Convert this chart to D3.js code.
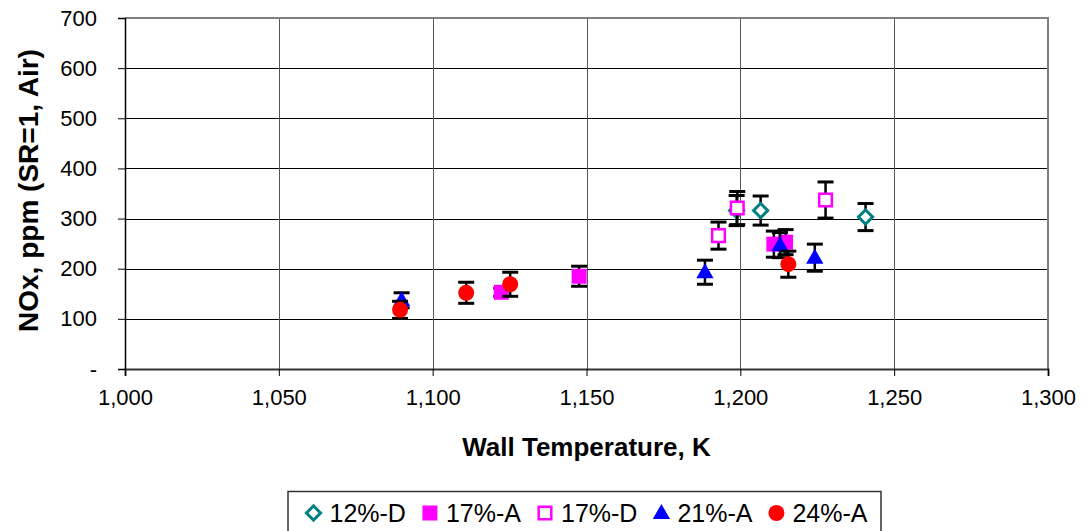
<!DOCTYPE html>
<meta charset="utf-8">
<script src="https://d3js.org/d3.v7.min.js"></script>
<style>
  body { margin: 0; background: #fff; font-family: Arial, "Liberation Sans", sans-serif; }
  .tick text { font-size: 22px; fill: #000; }
  .axisTitle { font-weight: bold; font-size: 26px; fill: #000; }
  .yTitle { font-size: 28px; }
  .legendText { font-size: 25px; fill: #000; }
</style>
<body></body>
<script>

// series: wall temperature (K), NOx (ppm), error (+/- ppm)
var seriesNames = ["12%-D", "17%-A", "17%-D", "21%-A", "24%-A"];
var temp12D = [1198.8, 1206.6, 1240.7];
var nox12D  = [316, 316, 303];
var err12D  = [30, 29, 27];
var temp17A = [1122.3, 1147.6, 1210.9, 1214.7];
var nox17A  = [153, 185, 249, 253];
var err17A  = [8, 20, 26, 25];
var temp17D = [1192.9, 1199.0, 1227.7];
var nox17D  = [266, 321, 337];
var err17D  = [27, 33, 36];
var temp21A = [1089.9, 1188.5, 1212.9, 1224.2];
var nox21A  = [137, 193, 247, 222];
var err21A  = [15, 24, 25, 27];
var temp24A = [1089.4, 1110.9, 1125.2, 1215.6];
var nox24A  = [118, 152, 169, 209];
var err24A  = [17, 21, 24, 26];
var xTicks = [1000, 1050, 1100, 1150, 1200, 1250, 1300];
var yTicks = [0, 100, 200, 300, 400, 500, 600, 700];

var series = [
  {name: seriesNames[0], t: temp12D, v: nox12D, e: err12D, kind: "diamond",  color: "#008080"},
  {name: seriesNames[1], t: temp17A, v: nox17A, e: err17A, kind: "square",   color: "#ff00ff"},
  {name: seriesNames[2], t: temp17D, v: nox17D, e: err17D, kind: "osquare",  color: "#ff00ff"},
  {name: seriesNames[3], t: temp21A, v: nox21A, e: err21A, kind: "triangle", color: "#0000ff"},
  {name: seriesNames[4], t: temp24A, v: nox24A, e: err24A, kind: "circle",   color: "#ff0000"}
];

var margin = {top: 18, right: 35, bottom: 162, left: 125};
var W = 1083, H = 531;
var width = W - margin.left - margin.right,
    height = H - margin.top - margin.bottom;

var svg = d3.select("body").append("svg")
    .attr("width", W)
    .attr("height", H);
var g = svg.append("g")
    .attr("transform", "translate(" + margin.left + "," + margin.top + ")");

var x = d3.scaleLinear().domain([1000, 1300]).range([0, width]);
var y = d3.scaleLinear().domain([0, 700]).range([height, 0]);

// grid
g.append("g").selectAll("line")
  .data(yTicks.slice(1, -1))
  .enter().append("line")
    .attr("x1", 0).attr("x2", width)
    .attr("y1", function(d) { return Math.round(y(d)) + 0.5; })
    .attr("y2", function(d) { return Math.round(y(d)) + 0.5; })
    .attr("stroke", "#000").attr("stroke-width", 1);
g.append("g").selectAll("line")
  .data(xTicks.slice(1, -1))
  .enter().append("line")
    .attr("y1", 0).attr("y2", height)
    .attr("x1", function(d) { return Math.round(x(d)) + 0.5; })
    .attr("x2", function(d) { return Math.round(x(d)) + 0.5; })
    .attr("stroke", "#555").attr("stroke-width", 1);

// plot border (top / right)
g.append("path")
  .attr("d", "M0,0H" + width + "V" + height)
  .attr("fill", "none").attr("stroke", "#808080").attr("stroke-width", 2);

// axes
var fmt = d3.format(",");
var xAxis = g.append("g")
    .attr("transform", "translate(0," + height + ")")
    .call(d3.axisBottom(x).tickValues(xTicks).tickFormat(fmt).tickSize(7).tickPadding(13));
var yAxis = g.append("g")
    .call(d3.axisLeft(y).tickValues(yTicks)
      .tickFormat(function(d) { return d === 0 ? "-" : d; })
      .tickSize(7).tickPadding(21));
xAxis.select(".domain").attr("stroke", "#333").attr("stroke-width", 2);
yAxis.select(".domain").attr("stroke", "#000").attr("stroke-width", 1.5);
xAxis.selectAll(".tick line").attr("stroke", "#000");
yAxis.selectAll(".tick line").attr("stroke", "#000");
xAxis.attr("font-family", null).attr("font-size", null);
yAxis.attr("font-family", null).attr("font-size", null);

// titles
svg.append("text")
  .attr("class", "axisTitle")
  .attr("x", margin.left + width / 2)
  .attr("y", 447)
  .attr("dy", "0.35em")
  .attr("text-anchor", "middle")
  .text("Wall Temperature, K");
svg.append("text")
  .attr("class", "axisTitle yTitle")
  .attr("transform", "translate(28," + (margin.top + height / 2 - 3) + ") rotate(-90)")
  .attr("dy", "0.35em")
  .attr("text-anchor", "middle")
  .text("NOx, ppm (SR=1, Air)");

function drawMarker(sel, kind, color) {
  if (kind === "diamond") {
    sel.append("path")
      .attr("d", d3.symbol().type(d3.symbolSquare).size(100)())
      .attr("transform", "rotate(45)")
      .attr("fill", "#fff").attr("stroke", color).attr("stroke-width", 3);
  } else if (kind === "square") {
    sel.append("path")
      .attr("d", d3.symbol().type(d3.symbolSquare).size(225)())
      .attr("fill", color);
  } else if (kind === "osquare") {
    sel.append("path")
      .attr("d", d3.symbol().type(d3.symbolSquare).size(160)())
      .attr("fill", "#fff").attr("stroke", color).attr("stroke-width", 2.5);
  } else if (kind === "triangle") {
    sel.append("path")
      .attr("d", d3.symbol().type(d3.symbolTriangle).size(130)())
      .attr("transform", "translate(0,1)")
      .attr("fill", color);
  } else {
    sel.append("circle").attr("r", 8).attr("fill", color);
  }
}

// series: error bars then markers
series.forEach(function(s) {
  var pts = s.t.map(function(t, i) { return {t: t, v: s.v[i], e: s.e[i]}; });
  var sg = g.append("g");
  var eb = sg.selectAll(".err").data(pts).enter().append("g")
      .attr("stroke", "#000");
  eb.append("line")
    .attr("x1", function(d) { return x(d.t); }).attr("x2", function(d) { return x(d.t); })
    .attr("y1", function(d) { return y(d.v + d.e); }).attr("y2", function(d) { return y(d.v - d.e); })
    .attr("stroke-width", 2.5);
  [1, -1].forEach(function(sign) {
    eb.append("line")
      .attr("x1", function(d) { return x(d.t) - 8; }).attr("x2", function(d) { return x(d.t) + 8; })
      .attr("y1", function(d) { return y(d.v + sign * d.e); })
      .attr("y2", function(d) { return y(d.v + sign * d.e); })
      .attr("stroke-width", 3);
  });
  sg.selectAll(".mk").data(pts).enter().append("g")
    .attr("transform", function(d) { return "translate(" + x(d.t) + "," + y(d.v) + ")"; })
    .each(function() { drawMarker(d3.select(this), s.kind, s.color); });
});

// legend
var legend = svg.append("g");
var legendBox = legend.append("rect")
  .attr("fill", "#fff").attr("stroke", "#333").attr("stroke-width", 1.5);
var lx = 0;
var items = legend.selectAll(".item").data(series).enter().append("g");
items.each(function(s, i) {
  var it = d3.select(this);
  var mk = it.append("g").attr("transform", "translate(" + (lx + 8) + ",0)");
  drawMarker(mk, s.kind, s.color);
  var tx = it.append("text").attr("class", "legendText")
    .attr("x", lx + 24).attr("dy", "0.35em").text(s.name);
  lx += 24 + tx.node().getComputedTextLength() + 16;
});
var legendW = lx - 16;
var legendX = margin.left + width / 2 - legendW / 2;
legend.attr("transform", "translate(" + legendX + ",513)");
legendBox.attr("x", -17.5).attr("y", -21.5).attr("width", legendW + 31).attr("height", 45);

</script>
